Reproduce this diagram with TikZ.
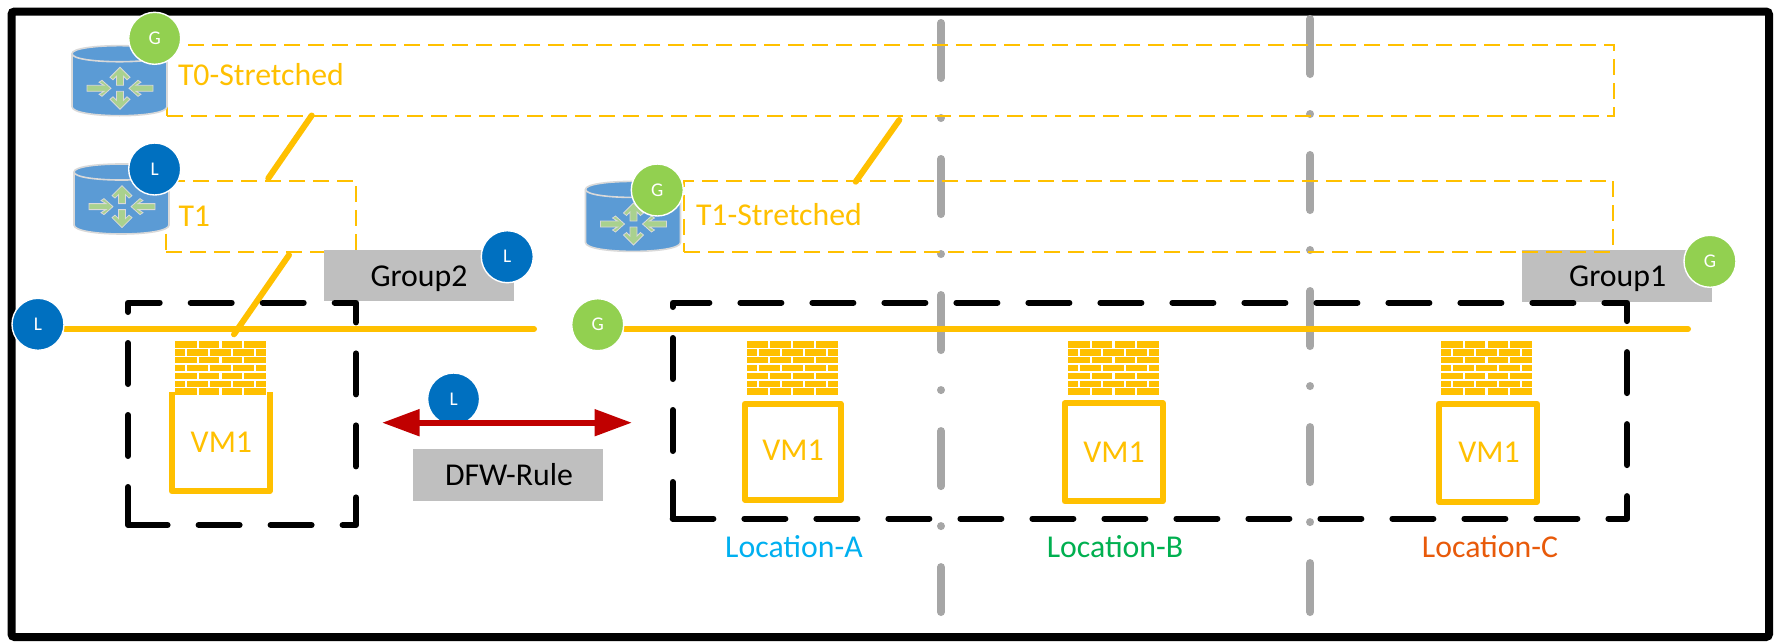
\documentclass[tikz,border=0pt]{standalone}
\usepackage{fontspec}
\setmainfont{Carlito}
\usetikzlibrary{arrows.meta}
\definecolor{ambr}{HTML}{FFC000}
\definecolor{grayln}{HTML}{A6A6A6}
\definecolor{grouprect}{HTML}{BFBFBF}
\definecolor{gcol}{HTML}{92D050}
\definecolor{lcol}{HTML}{0070C0}
\definecolor{cylblue}{HTML}{5B9BD5}
\definecolor{cyledge}{HTML}{D9D9D9}
\definecolor{arrowgreen}{HTML}{A9D18E}
\definecolor{dred}{HTML}{C00000}
\definecolor{locA}{HTML}{00B0F0}
\definecolor{locB}{HTML}{00B050}
\definecolor{locC}{HTML}{E85A0A}
\tikzset{
  bigtext/.style={font=\fontsize{15.9}{18}\selectfont,inner sep=0pt,outer sep=0pt,text height=10.2pt,text depth=0pt},
  yellowbox/.style={draw=ambr,line width=0.9pt,dash pattern=on 8pt off 4pt,rectangle,inner sep=0pt,outer sep=0pt},
  conn/.style={draw=ambr,line width=3pt,line cap=round},
  wire/.style={draw=ambr,line width=3pt,line cap=round},
  divider/.style={draw=grayln,line width=4pt,line cap=round,dash pattern=on 27.5pt off 20pt on 0.01pt off 20.5pt},
  sitebox/.style={draw=black,line width=3pt,line cap=round,line join=round,dash pattern=on 20.5pt off 15.5pt},
  vmbox/.style={draw=ambr,line width=3pt,line join=round,rectangle,inner sep=0pt,outer sep=0pt},
  graybox/.style={fill=grouprect,rectangle,inner sep=0pt,outer sep=0pt},
  badge/.style={circle,draw=white,line width=0.7pt,minimum size=26pt,inner sep=0pt,outer sep=0pt,text=white,font=\fontsize{9.7}{11}\selectfont,text height=6.2pt,text depth=0pt},
  firewall/.pic={
    \fill[white] (0,0) rectangle (91.3,54);
    \foreach \r in {0,2,4,6}
      \foreach \a/\b in {0/21.7,23.7/44.3,46.7/67.3,69.3/91.3}
        \fill[ambr] ({\a},{\r*7.9}) rectangle ({\b},{\r*7.9+6.6});
    \foreach \r in {1,3,5}
      \foreach \a/\b in {0/10.3,12.3/33.3,35.3/56.3,58.3/79.3,81.3/91.3}
        \fill[ambr] ({\a},{\r*7.9}) rectangle ({\b},{\r*7.9+6.6});
  },
  router/.pic={
    \path[fill=cylblue,draw=cyledge,line width=0.8pt]
      (-47.5,-27) .. controls (-47.5,-37.7) and (47.5,-37.7) .. (47.5,-27)
      -- (47.5,26) .. controls (47.5,38) and (-47.5,38) .. (-47.5,26) -- cycle;
    \draw[cyledge,line width=0.8pt] (-47.5,-27) .. controls (-47.5,-16.3) and (47.5,-16.3) .. (47.5,-27);
    \begin{scope}[shift={(0.5,7.6)}]
      \path[fill=arrowgreen,draw=cyledge,line width=0.4pt] (0,-21) -- (10,-11) -- (7,-8.5) -- (3.5,-12) -- (3.5,-3) -- (-3.5,-3) -- (-3.5,-12) -- (-7,-8.5) -- (-10,-11) -- cycle;
      \path[fill=arrowgreen,draw=cyledge,line width=0.4pt] (0,21) -- (10,11) -- (7,8.5) -- (3.5,12) -- (3.5,3) -- (-3.5,3) -- (-3.5,12) -- (-7,8.5) -- (-10,11) -- cycle;
      \path[fill=arrowgreen,draw=cyledge,line width=0.4pt] (-9,0) -- (-18,-8) -- (-21,-6) -- (-16,-3) -- (-33,-3) -- (-33,3) -- (-16,3) -- (-21,6) -- (-18,8) -- cycle;
      \path[fill=arrowgreen,draw=cyledge,line width=0.4pt] (9,0) -- (18,-8) -- (21,-6) -- (16,-3) -- (33,-3) -- (33,3) -- (16,3) -- (21,6) -- (18,8) -- cycle;
    \end{scope}
  }
}
\begin{document}
\begin{tikzpicture}[x=0.5pt,y=-0.5pt]
\useasboundingbox (0,0) rectangle (1785,643);
\fill[white] (0,0) rectangle (1785,643);
% frame
\draw[black,line width=4pt,rounded corners=1.5pt] (11.5,11.5) rectangle (1769,637);
% dividers
\coordinate (d1a) at (941,23); \coordinate (d1b) at (941,612);
\coordinate (d2a) at (1310.3,19); \coordinate (d2b) at (1310.3,612);
\draw[divider] (d1a) -- (d1b);
\draw[divider] (d2a) -- (d2b);
% dashed router boxes
\node[yellowbox,anchor=north west,minimum width=723.5pt,minimum height=35.6pt] (t0box) at (167,44.7) {};
\node[yellowbox,anchor=north west,minimum width=95pt,minimum height=35.6pt] (t1box) at (166,180.7) {};
\node[yellowbox,anchor=north west,minimum width=464.6pt,minimum height=35.6pt] (t1sbox) at (684,180.7) {};
% routers
\pic at (119.5,80.7) {router};
\pic at (121.5,199) {router};
\pic at (633,216.4) {router};
% group rectangles
\node[graybox,anchor=north west,minimum width=95pt,minimum height=25.5pt] (group2) at (324.3,250) {};
\node[graybox,anchor=north west,minimum width=95pt,minimum height=25.8pt] (group1) at (1521.7,250) {};
\node[graybox,anchor=north west,minimum width=95pt,minimum height=25.8pt] (dfw) at (412.5,449) {};
\draw[yellowbox] (1521.7,251.7) -- (1613.3,251.7);
\node[bigtext] (group2t) at (419,276.5) {Group2};
\node[bigtext] (group1t) at (1617.7,276.5) {Group1};
\node[bigtext] (dfwt) at (509,475) {DFW-Rule};
% texts in boxes
\node[bigtext,text=ambr,anchor=west] (t0t) at (178,75) {T0-Stretched};
\node[bigtext,text=ambr,anchor=west] (t1t) at (178.5,216) {T1};
\node[bigtext,text=ambr,anchor=west] (t1st) at (696,215.7) {T1-Stretched};
% connectors
\coordinate (c1a) at (311.7,115.5); \coordinate (c1b) at (268.3,178.3);
\coordinate (c2a) at (899.3,120); \coordinate (c2b) at (855.7,181.7);
\coordinate (c3a) at (289,255); \coordinate (c3b) at (234,334.3);
\draw[conn] (c1a) -- (c1b);
\draw[conn] (c2a) -- (c2b);
\draw[conn] (c3a) -- (c3b);
% site boxes
\draw[sitebox,dash phase=1.5pt] (128,525) -- (128,302.7) -- (356,302.7) -- (356,525) -- cycle;
\draw[sitebox,dash phase=2.25pt] (672.7,518.5) -- (672.7,302.7) -- (1627,302.7) -- (1627,518.5) -- cycle;
% wires
\coordinate (w1a) at (65,329); \coordinate (w1b) at (534,329);
\coordinate (w2a) at (625,329); \coordinate (w2b) at (1688,329);
\draw[wire] (w1a) -- (w1b);
\draw[wire] (w2a) -- (w2b);
% VM boxes
\node[inner sep=0pt,outer sep=0pt,anchor=north west,minimum width=48.75pt,minimum height=49.8pt] (vm0) at (172,391.7) {};
\draw[ambr,line width=3pt,line join=round] (vm0.north west) -- (vm0.south west) -- (vm0.south east) -- (vm0.north east);
\node[vmbox,anchor=north west,minimum width=47.85pt,minimum height=48pt] (vmA) at (745,403.7) {};
\node[vmbox,anchor=north west,minimum width=49pt,minimum height=49pt] (vmB) at (1064.7,403.3) {};
\node[vmbox,anchor=north west,minimum width=49pt,minimum height=49pt] (vmC) at (1439,403.7) {};
\node[bigtext,text=ambr] (vm0t) at (221.4,442.7) {VM1};
\node[bigtext,text=ambr] (vmAt) at (793,450.7) {VM1};
\node[bigtext,text=ambr] (vmBt) at (1114,452.7) {VM1};
\node[bigtext,text=ambr] (vmCt) at (1489,452.7) {VM1};
% firewalls
\pic at (175,341) {firewall};
\pic at (746.7,341) {firewall};
\pic at (1068,341) {firewall};
\pic at (1441,341) {firewall};
% locations
\node[bigtext,text=locA] (locAt) at (794,547) {Location-A};
\node[bigtext,text=locB] (locBt) at (1115,547.3) {Location-B};
\node[bigtext,text=locC] (locCt) at (1490,547.3) {Location-C};
% badges
\node[badge,fill=gcol] (b1) at (154.7,38.3) {G};
\node[badge,fill=lcol] (b2) at (154.7,169) {L};
\node[badge,fill=gcol] (b3) at (657.3,190) {G};
\node[badge,fill=gcol] (b4) at (597.7,324.7) {G};
\node[badge,fill=lcol] (b5) at (38,324.3) {L};
\node[badge,fill=lcol] (b6) at (507.3,256.7) {L};
\node[badge,fill=gcol] (b7) at (1710,261.3) {G};
\node[badge,fill=lcol] (b8) at (453.6,399) {L};
% DFW arrow
\coordinate (ara) at (382,422.7); \coordinate (arb) at (632,422.7);
\draw[dred,line width=3pt,{Triangle[length=18.75pt,width=12.85pt]}-{Triangle[length=18.75pt,width=12.85pt]}] (ara) -- (arb);
\end{tikzpicture}
\end{document}
